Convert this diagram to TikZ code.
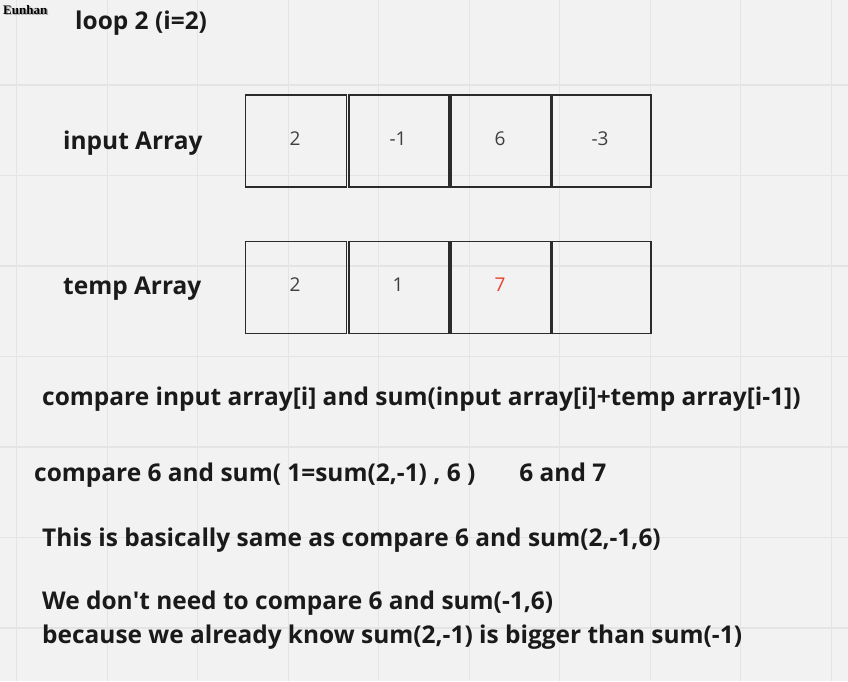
\documentclass[tikz,border=0pt]{standalone}
\usepackage{fontspec}
\setmainfont{Open Sans}
\newfontfamily\wmfont{Liberation Serif}
\definecolor{bgc}{HTML}{F2F2F2}
\definecolor{gridc}{HTML}{E4E4E4}
\definecolor{boxc}{HTML}{2B2B2B}
\definecolor{numc}{HTML}{3F3F3F}
\definecolor{txtc}{HTML}{1A1A1A}
\definecolor{redc}{HTML}{E8412C}
\tikzset{
  cell/.style={draw=boxc, line width=1.6pt, minimum width=101pt, minimum height=92pt, inner sep=0pt, anchor=north west},
  num/.style={font=\fontsize{19}{19}\selectfont, text=numc, inner sep=0pt, anchor=base},
  lbl/.style={font=\fontsize{24.45}{24}\selectfont\bfseries, text=txtc, inner sep=0pt, anchor=base west},
  gridline/.style={draw=gridc, line width=1.3pt}
}
\begin{document}
\begin{tikzpicture}[x=1pt,y=-1pt]
\fill[bgc] (0,0) rectangle (848,681);
\useasboundingbox (0,0) rectangle (848,681);
\foreach \i in {0,...,9} {\draw[gridline] ({16.7+90.5*\i},0) -- ({16.7+90.5*\i},681);}
\foreach \j in {0,...,6} {\draw[gridline] (0,{85+90.5*\j}) -- (848,{85+90.5*\j});}
% watermark
\node[inner sep=0pt, anchor=base west, font=\wmfont\bfseries\fontsize{13}{13}\selectfont, text=gray!65] at (4.5,15.5) {Eunhan};
\node[inner sep=0pt, anchor=base west, font=\wmfont\bfseries\fontsize{13}{13}\selectfont, text=black] (wm) at (3,14) {Eunhan};
% title
\node[lbl] (title) at (75,29.5) {loop 2 (i=2)};
\node[lbl] (inlbl) at (63,149.3) {input Array};
\node[lbl] (tmplbl) at (63,294.3) {temp Array};
% input array
\node[cell] (a1) at (244.5,94) {};
\node[cell, minimum width=100pt] (a2) at (348,94) {};
\node[cell, minimum width=99.5pt] (a3) at (450,94) {};
\node[cell, minimum width=99pt] (a4) at (551,94) {};
\node[num] at (295,145.7) {2};
\node[num] at (398,145.7) {-1};
\node[num] at (500,145.7) {6};
\node[num] at (600,145.7) {-3};
% temp array
\node[cell] (b1) at (244.5,240.5) {};
\node[cell, minimum width=100pt] (b2) at (348,240.5) {};
\node[cell, minimum width=99.5pt] (b3) at (450,240.5) {};
\node[cell, minimum width=99pt] (b4) at (551,240.5) {};
\node[num] at (295,291.7) {2};
\node[num] at (398,291.7) {1};
\node[num, text=redc] at (500,291.7) {7};
% text lines
\node[lbl] (l1) at (42,405) {compare input array[i] and sum(input array[i]+temp array[i-1])};
\node[lbl] (l2) at (34,481.7) {compare 6 and sum( 1=sum(2,-1) , 6 )\hspace{44pt}6 and 7};
\node[lbl] (l3) at (42,546.7) {This is basically same as compare 6 and sum(2,-1,6)};
\node[lbl] (l4) at (42,609) {We don\textquotesingle t need to compare 6 and sum(-1,6)};
\node[lbl] (l5) at (42,643.3) {because we already know sum(2,-1) is bigger than sum(-1)};
\end{tikzpicture}
\end{document}
